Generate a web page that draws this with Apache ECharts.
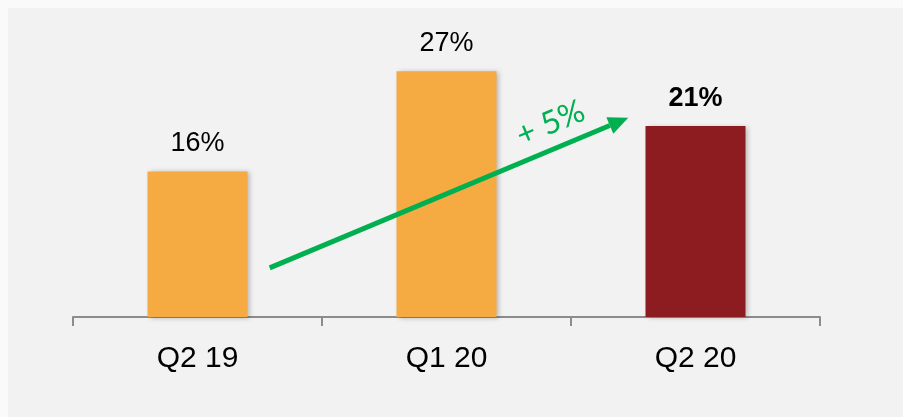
<!DOCTYPE html>
<html><head><meta charset="utf-8">
<script src="https://cdn.jsdelivr.net/npm/echarts@6/dist/echarts.min.js"></script>
<style>html,body{margin:0;padding:0;background:#fafafa;}#c{width:903px;height:417px;}</style>
</head><body><div id="c"></div>
<script>
const categories = ['Q2 19', 'Q1 20', 'Q2 20'];
const values = [16, 27, 21];
const barColors = ['#F6AA42', '#F6AA42', '#8C1C1F'];
const boldLabel = [false, false, true];
// arrow: from (category position, value) to (category position, value)
const arrowStart = [0.29, 5.4];
const arrowEnd = [1.73, 21.9];
const arrowText = '+ 5%';

const chart = echarts.init(document.getElementById('c'));
const option = {
  animation: false,
  backgroundColor: 'transparent',
  grid: {left: 73, right: 83, top: 44, bottom: 100},
  xAxis: {
    type: 'category', data: categories,
    axisLine: {lineStyle: {color: '#8c8c8c', width: 2}},
    axisTick: {show: true, length: 9, lineStyle: {color: '#8c8c8c', width: 2}},
    axisLabel: {color: '#000', fontSize: 30, fontFamily: 'Liberation Sans, Arial', margin: 27}
  },
  yAxis: {type: 'value', min: 0, max: 30, show: false, splitLine: {show: false}},
  series: [{
    type: 'bar', barWidth: 100,
    data: values.map((v, i) => ({
      value: v,
      itemStyle: {color: barColors[i], shadowBlur: 5, shadowColor: 'rgba(0,0,0,0.25)', shadowOffsetX: 2, shadowOffsetY: 1},
      label: {fontWeight: boldLabel[i] ? 'bold' : 'normal'}
    })),
    label: {show: true, position: 'top', distance: 14, formatter: '{c}%', color: '#000', fontSize: 27, fontFamily: 'Liberation Sans, Arial'}
  }]
};
chart.setOption(option);

function toPx(p) {
  const i0 = Math.floor(p[0]);
  const a = chart.convertToPixel({xAxisIndex: 0}, i0);
  const b = chart.convertToPixel({xAxisIndex: 0}, i0 + 1);
  const x = a + (b - a) * (p[0] - i0);
  const y = chart.convertToPixel({yAxisIndex: 0}, p[1]);
  return [x, y];
}
const s = toPx(arrowStart), e = toPx(arrowEnd);
const ang = Math.atan2(e[1] - s[1], e[0] - s[0]);
const headLen = 20, headW = 9;
const bx = e[0] - headLen * Math.cos(ang), by = e[1] - headLen * Math.sin(ang);
const nx = -Math.sin(ang), ny = Math.cos(ang);
const t = 0.81;
const mid = [s[0] + t * (e[0] - s[0]), s[1] + t * (e[1] - s[1])];
chart.setOption({
  graphic: [
    {type: 'rect', z: -10, silent: true, shape: {x: 8, y: 8, width: 903, height: 417}, style: {fill: '#f2f2f2'}},
    {type: 'line', z: 10, shape: {x1: s[0], y1: s[1], x2: bx, y2: by}, style: {stroke: '#00B050', lineWidth: 5}},
    {type: 'polygon', z: 10, shape: {points: [[e[0], e[1]], [bx + nx * headW, by + ny * headW], [bx - nx * headW, by - ny * headW]]}, style: {fill: '#00B050'}},
    {type: 'text', z: 10, x: mid[0] - 25 * nx, y: mid[1] - 25 * ny, rotation: -ang,
     style: {text: arrowText, fill: '#00B050', font: '32px Lato, "Open Sans", sans-serif', align: 'center', verticalAlign: 'middle'}}
  ]
});
</script></body></html>
